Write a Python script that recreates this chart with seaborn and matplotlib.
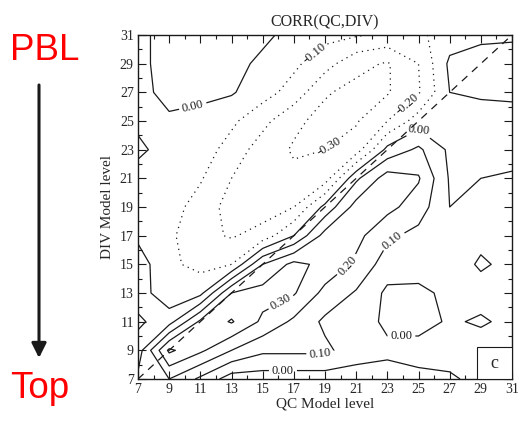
import numpy as np
import matplotlib
matplotlib.use("Agg")
import matplotlib.pyplot as plt
from matplotlib.patches import Rectangle
import seaborn as sns

# Model levels (odd levels, as labelled on both axes)
qc_levels = [7, 9, 11, 13, 15, 17, 19, 21, 23, 25, 27, 29, 31]
div_levels = [7, 9, 11, 13, 15, 17, 19, 21, 23, 25, 27, 29, 31]

# Correlation: one column per QC level, values for DIV levels 7..31
qc07 = [0.12, 0.05, -0.02, 0.05, 0.05, -0.02, -0.03, -0.02, 0.01, -0.01, -0.02, -0.02, -0.02]
qc09 = [0.20, 0.42, 0.06, -0.07, -0.08, -0.08, -0.06, -0.04, -0.02, -0.01, 0.02, 0.03, 0.03]
qc11 = [0.08, 0.32, 0.32, -0.03, -0.13, -0.17, -0.14, -0.09, -0.05, -0.04, 0.03, 0.04, 0.04]
qc13 = [-0.05, 0.20, 0.41, 0.30, -0.10, -0.21, -0.24, -0.20, -0.14, -0.08, 0.01, 0.03, 0.04]
qc15 = [-0.05, 0.12, 0.28, 0.34, 0.20, -0.16, -0.25, -0.28, -0.25, -0.17, -0.06, -0.02, 0.02]
qc17 = [-0.05, 0.12, 0.18, 0.31, 0.33, 0.00, -0.20, -0.28, -0.31, -0.28, -0.14, -0.08, -0.03]
qc19 = [-0.05, 0.12, 0.08, 0.17, 0.27, 0.24, 0.03, -0.25, -0.30, -0.33, -0.29, -0.16, -0.07]
qc21 = [-0.05, 0.05, 0.05, 0.09, 0.18, 0.23, 0.24, 0.08, -0.25, -0.31, -0.33, -0.27, -0.09]
qc23 = [-0.04, 0.02, -0.02, -0.02, 0.05, 0.12, 0.23, 0.25, 0.03, -0.20, -0.31, -0.31, -0.12]
qc25 = [-0.02, 0.03, -0.03, -0.02, 0.04, 0.07, 0.15, 0.21, 0.12, -0.05, -0.21, -0.20, -0.12]
qc27 = [-0.01, 0.03, 0.01, 0.02, 0.04, 0.04, 0.00, -0.01, -0.02, -0.01, 0.00, 0.02, -0.05]
qc29 = [0.02, 0.04, -0.01, 0.03, -0.01, 0.02, 0.02, 0.00, -0.04, -0.03, 0.01, 0.04, -0.02]
qc31 = [0.02, 0.03, 0.02, 0.03, 0.02, 0.03, 0.02, 0.01, -0.03, -0.02, 0.01, 0.03, -0.01]

contour_levels = [-0.30, -0.20, -0.10, 0.00, 0.10, 0.20, 0.30, 0.40]
tick_labels = ["7", "9", "11", "13", "15", "17", "19", "21", "23", "25", "27", "29", "31"]

corr = np.column_stack([qc07, qc09, qc11, qc13, qc15, qc17, qc19,
                        qc21, qc23, qc25, qc27, qc29, qc31])

sns.set_theme(style="ticks")
plt.rcParams["font.family"] = ["Liberation Serif", "DejaVu Serif"]

W, H = 520, 421
fig = plt.figure(figsize=(W / 100, H / 100), dpi=100)
ax = fig.add_axes([138 / W, 1 - 379 / H, 374 / W, 344 / H])

styles = [(0, (1, 3.5)) if lv < 0 else "solid" for lv in contour_levels]
cs = ax.contour(qc_levels, div_levels, corr, levels=contour_levels,
                colors="k", linewidths=0.9, linestyles=styles)

# dashed 1:1 reference line
sns.lineplot(x=qc_levels, y=div_levels, ax=ax, color="k",
             linestyle=(0, (6, 5)), linewidth=0.9)

spots = [(10.5, 26.1), (18.5, 29.5), (19.1, 23.4), (24.5, 25.9), (25.3, 24.8),
         (23.2, 16.9), (20.4, 15.0), (16.1, 12.5), (23.9, 10.4), (18.7, 8.4),
         (16.3, 7.7)]
ax.clabel(cs, fmt="%.2f", fontsize=9, inline=True, inline_spacing=3, manual=spots)

ax.set_xlim(7, 31)
ax.set_ylim(7, 31)
ax.set_xticks(qc_levels)
ax.set_xticklabels(tick_labels)
ax.set_yticks(div_levels)
ax.set_yticklabels(tick_labels)
ax.set_xticks(np.arange(7, 32, 1), minor=True)
ax.set_yticks(np.arange(7, 32, 1), minor=True)
ax.tick_params(which="both", direction="in", top=True, right=True,
               labelsize=10, color="k", pad=3)
ax.tick_params(which="major", length=6, width=0.8)
ax.tick_params(which="minor", length=3, width=0.8)
for sp in ax.spines.values():
    sp.set_linewidth(1.0)
    sp.set_color("k")

ax.set_title("CORR(QC,DIV)", fontsize=11.5, pad=6)
ax.set_xlabel("QC Model level", fontsize=11, labelpad=1)
ax.set_ylabel("DIV Model level", fontsize=11, labelpad=4)

# panel letter box
ax.add_patch(Rectangle((0.906, 0.0), 0.094, 0.093, transform=ax.transAxes,
                       facecolor="white", edgecolor="k", lw=0.8, zorder=5))
ax.text(0.953, 0.046, "c", transform=ax.transAxes, ha="center", va="center",
        fontsize=13, zorder=6)

# side annotation
fig.text(10 / W, 1 - 50 / H, "PBL", color="red", fontsize=26.5,
         family=["Liberation Sans", "DejaVu Sans"], ha="left", va="center")
fig.text(10 / W, 1 - 388 / H, "Top", color="red", fontsize=26.5,
         family=["Liberation Sans", "DejaVu Sans"], ha="left", va="center")
ax.annotate("", xy=(39 / W, 1 - 358 / H), xytext=(39 / W, 1 - 85 / H),
            xycoords="figure fraction", textcoords="figure fraction",
            arrowprops=dict(arrowstyle="-|>", lw=2.2, color="k",
                            mutation_scale=22, shrinkA=0, shrinkB=0))

fig.savefig("out.png", dpi=100, facecolor="white")
